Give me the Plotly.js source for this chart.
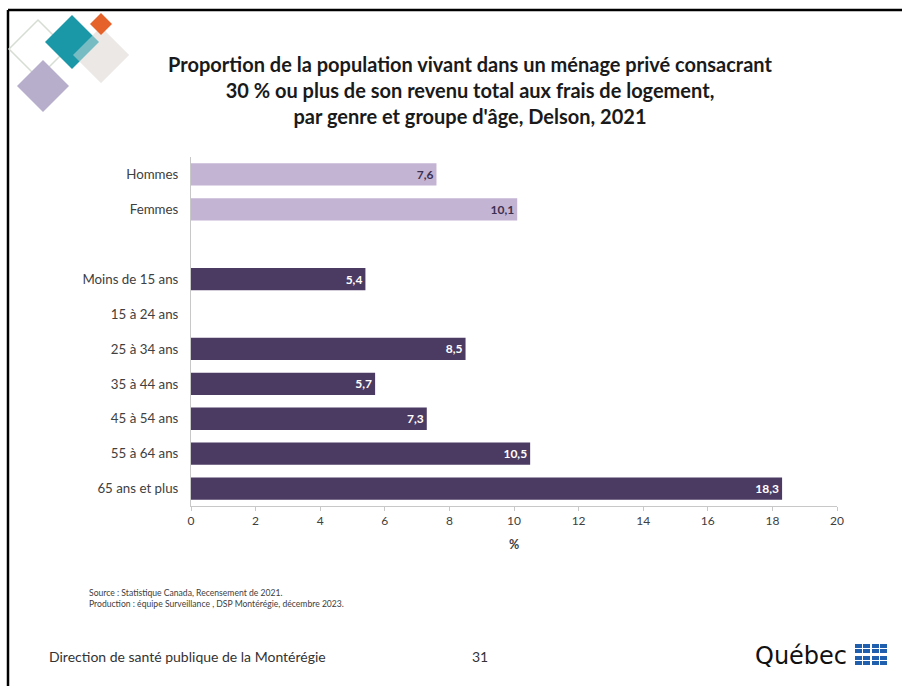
<!DOCTYPE html>
<html>
<head>
<meta charset="utf-8">
<script src="https://cdn.plot.ly/plotly-3.0.1.min.js"></script>
<style>html,body{margin:0;padding:0;background:#fff;}#chart{width:902px;height:686px;}</style>
</head>
<body>
<div id="chart"></div>
<script>
// ---- data ----
const genderCategories = ["Hommes", "Femmes"];
const genderValues = [7.6, 10.1];
const ageCategories = ["Moins de 15 ans", "15 à 24 ans", "25 à 34 ans", "35 à 44 ans", "45 à 54 ans", "55 à 64 ans", "65 ans et plus"];
const ageValues = [5.4, 0.0, 8.5, 5.7, 7.3, 10.5, 18.3];
const spacerCategory = [" "];
const xTickValues = [0, 2, 4, 6, 8, 10, 12, 14, 16, 18, 20];

const allCategories = genderCategories.concat(spacerCategory, ageCategories);

// plot-area geometry in pixels (for decoration placement)
const W = 902, H = 686;
const L = 191, R = 837, T = 157, B = 506;
const px = x => (x - L) / (R - L);
const py = y => (B - y) / (B - T);

function diamond(cx, cy, r, fill, opacity, line) {
  const path = `M ${px(cx)} ${py(cy - r)} L ${px(cx + r)} ${py(cy)} L ${px(cx)} ${py(cy + r)} L ${px(cx - r)} ${py(cy)} Z`;
  return {type: 'path', xref: 'paper', yref: 'paper', path: path,
    fillcolor: fill || 'rgba(0,0,0,0)', opacity: opacity == null ? 1 : opacity,
    line: line || {width: 0}, layer: 'above'};
}

const shapes = [
  // slide frame
  {type: 'line', xref: 'paper', yref: 'paper', x0: px(8), x1: px(902), y0: py(10), y1: py(10), line: {color: '#000', width: 2.5}},
  {type: 'line', xref: 'paper', yref: 'paper', x0: px(8), x1: px(8), y0: py(10), y1: py(686), line: {color: '#000', width: 2.5}},
  // logo diamonds
  diamond(38, 49, 29, null, 1, {color: '#d6ddd3', width: 1.5}),
  diamond(101, 55, 28, '#ebe7e5', 1),
  diamond(72, 42, 27, '#1b98a7', 1),
  diamond(101, 55, 28, '#ece9e7', 0.45),
  diamond(101, 24, 11, '#e6622b', 1),
  diamond(43, 86, 26, '#b7aecb', 1)
];

// Québec flags
const flagW = 15, flagH = 9;
[[855, 644], [872, 644], [855, 656], [872, 656]].forEach(([fx, fy]) => {
  shapes.push({type: 'rect', xref: 'paper', yref: 'paper', x0: px(fx), x1: px(fx + flagW), y0: py(fy), y1: py(fy + flagH), fillcolor: '#1f5fae', line: {width: 0}});
  shapes.push({type: 'line', xref: 'paper', yref: 'paper', x0: px(fx + flagW / 2), x1: px(fx + flagW / 2), y0: py(fy), y1: py(fy + flagH), line: {color: '#fff', width: 1}});
  shapes.push({type: 'line', xref: 'paper', yref: 'paper', x0: px(fx), x1: px(fx + flagW), y0: py(fy + flagH / 2), y1: py(fy + flagH / 2), line: {color: '#fff', width: 1}});
});

const font = 'Lato, "Open Sans", sans-serif';

const traces = [
  {
    type: 'bar', orientation: 'h', y: genderCategories, x: genderValues,
    marker: {color: '#c4b4d4'}, width: 0.64,
    texttemplate: '%{x:.1f}', textposition: 'inside', insidetextanchor: 'end',
    textfont: {family: font, size: 12, color: '#3c3050', weight: 'bold'},
    hoverinfo: 'x+y'
  },
  {
    type: 'bar', orientation: 'h', y: spacerCategory, x: [null],
    hoverinfo: 'skip', showlegend: false
  },
  {
    type: 'bar', orientation: 'h', y: ageCategories, x: ageValues,
    marker: {color: '#4b3b63'}, width: 0.64,
    texttemplate: '%{x:.1f}', textposition: 'inside', insidetextanchor: 'end',
    textfont: {family: font, size: 12, color: '#ffffff', weight: 'bold'},
    hoverinfo: 'x+y'
  }
];

const layout = {
  width: W, height: H,
  margin: {l: L, r: W - R, t: T, b: H - B, pad: 0},
  paper_bgcolor: '#fff', plot_bgcolor: '#fff',
  showlegend: false,
  separators: ', ',
  barmode: 'overlay',
  font: {family: font, color: '#404040'},
  title: {
    text: "Proportion de la population vivant dans un ménage privé consacrant<br>30 % ou plus de son revenu total aux frais de logement,<br>par genre et groupe d'âge, Delson, 2021",
    font: {family: font, size: 20, color: '#1a1a1a', weight: 'bold'},
    x: 470 / W, xanchor: 'center', xref: 'container',
    y: 1 - 72 / H, yanchor: 'top', yref: 'container'
  },
  xaxis: {
    range: [0, 20], tickvals: xTickValues, ticktext: xTickValues.map(String),
    showgrid: false, zeroline: false,
    showline: true, linecolor: '#c8c8c8', linewidth: 1,
    ticks: 'outside', ticklen: 4, tickcolor: '#c8c8c8',
    tickfont: {family: font, size: 12, color: '#404040'},
    title: {text: '%', font: {family: font, size: 12.5, color: '#404040', weight: 'bold'}, standoff: 12},
    fixedrange: true
  },
  yaxis: {
    type: 'category', categoryorder: 'array', categoryarray: allCategories,
    range: [allCategories.length - 0.5, -0.5],
    showgrid: false, zeroline: false,
    showline: true, linecolor: '#c8c8c8', linewidth: 1,
    ticks: '', ticklabelstandoff: 9,
    tickfont: {family: font, size: 13.3, color: '#404040'},
    fixedrange: true
  },
  shapes: shapes,
  annotations: [
    {text: 'Source : Statistique Canada, Recensement de 2021.<br>Production : équipe Surveillance , DSP Montérégie, décembre 2023.',
     xref: 'paper', yref: 'paper', x: px(87), y: py(586), xanchor: 'left', yanchor: 'top', align: 'left',
     showarrow: false, font: {family: font, size: 8.6, color: '#404040'}},
    {text: 'Direction de santé publique de la Montérégie', xref: 'paper', yref: 'paper', x: px(47), y: py(656),
     xanchor: 'left', yanchor: 'middle', showarrow: false, font: {family: font, size: 14, color: '#333'}},
    {text: '31', xref: 'paper', yref: 'paper', x: px(480), y: py(656),
     xanchor: 'center', yanchor: 'middle', showarrow: false, font: {family: font, size: 14, color: '#333'}},
    {text: 'Québec', xref: 'paper', yref: 'paper', x: px(849), y: py(656),
     xanchor: 'right', yanchor: 'middle', showarrow: false, font: {family: '"DejaVu Sans", sans-serif', size: 24, color: '#111'}}
  ]
};

Plotly.newPlot('chart', traces, layout, {displayModeBar: false, staticPlot: true});
</script>
</body>
</html>
